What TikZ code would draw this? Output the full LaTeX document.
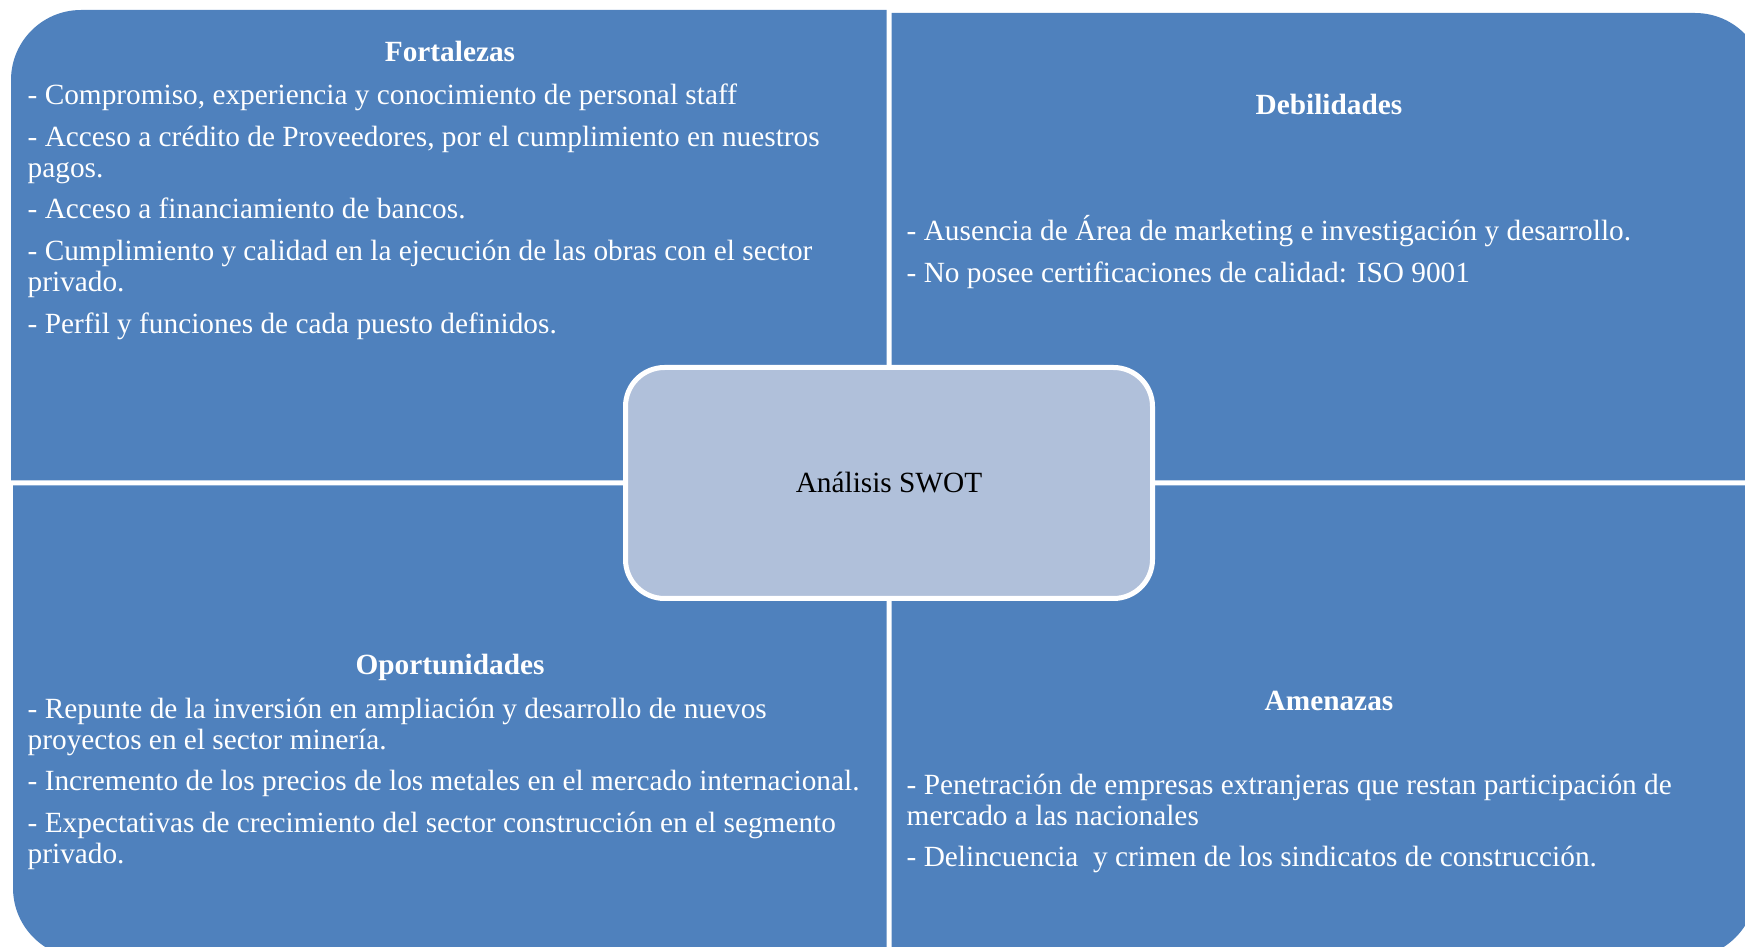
\documentclass[tikz,border=0pt]{standalone}
\usepackage{fontspec}
\setmainfont{Liberation Serif}
\usepackage{xcolor}
\definecolor{swotblue}{HTML}{4F81BD}
\definecolor{swotpale}{HTML}{B0C0DA}

\begin{document}
\begin{tikzpicture}[
    quadrant/.style={fill=swotblue},
    heading/.style={anchor=base, text=white, inner sep=0pt,
                    font=\fontsize{8.34pt}{8.8pt}\selectfont\bfseries},
    items/.style={anchor=north west, align=left, text=white, inner sep=0pt,
                  font=\fontsize{8.34pt}{8.8pt}\selectfont},
    core/.style={rectangle, rounded corners=0.39cm, draw=white, fill=swotpale,
                 line width=0.05cm, minimum width=5.27cm, minimum height=2.31cm,
                 font=\fontsize{8.34pt}{8.8pt}\selectfont}
  ]
    \useasboundingbox (0,0) rectangle (17.45,-9.47);
    \clip (0,0) rectangle (17.45,-9.47);

    % four quadrants, each with one rounded outer corner
    \fill[quadrant] (8.865,-4.805) -- (8.865,-0.10) -- (0.81,-0.10)
        arc[start angle=90, end angle=180, radius=0.7] -- (0.11,-4.805) -- cycle;
    \fill[quadrant] (8.915,-4.805) -- (8.915,-0.13) -- (16.95,-0.13)
        arc[start angle=90, end angle=0, radius=0.7] -- (17.65,-4.805) -- cycle;
    \fill[quadrant] (8.865,-4.855) -- (0.13,-4.855) -- (0.13,-8.88)
        arc[start angle=180, end angle=270, radius=0.7] -- (8.865,-9.58) -- cycle;
    \fill[quadrant] (8.915,-4.855) -- (17.56,-4.855) -- (17.56,-8.88)
        arc[start angle=0, end angle=-90, radius=0.7] -- (8.915,-9.58) -- cycle;

    \node[core] (swot) at (8.89,-4.83) {Análisis SWOT};

    \node[heading] (stitle) at (4.50,-0.62) {Fortalezas};
    \node[items] (slist) at (0.27,-0.83) {- Compromiso, experiencia y conocimiento de personal staff\\[3.1pt]
      - Acceso a crédito de Proveedores, por el cumplimiento en nuestros\\
      pagos.\\[3.1pt]
      - Acceso a financiamiento de bancos.\\[3.1pt]
      - Cumplimiento y calidad en la ejecución de las obras con el sector\\
      privado.\\[3.1pt]
      - Perfil y funciones de cada puesto definidos.};

    \node[heading] (wtitle) at (13.29,-1.15) {Debilidades};
    \node[items] (wlist) at (9.06,-2.15) {- Ausencia de Área de marketing e investigación y desarrollo.\\[3.1pt]
      - No posee certificaciones de calidad: ISO 9001};

    \node[heading] (otitle) at (4.50,-6.75) {Oportunidades};
    \node[items] (olist) at (0.27,-6.97) {- Repunte de la inversión en ampliación y desarrollo de nuevos\\
      proyectos en el sector minería.\\[3.1pt]
      - Incremento de los precios de los metales en el mercado internacional.\\[3.1pt]
      - Expectativas de crecimiento del sector construcción en el segmento\\
      privado.};

    \node[heading] (ttitle) at (13.29,-7.10) {Amenazas};
    \node[items] (tlist) at (9.06,-7.73) {- Penetración de empresas extranjeras que restan participación de\\
      mercado a las nacionales\\[3.1pt]
      - Delincuencia~ y crimen de los sindicatos de construcción.};
\end{tikzpicture}
\end{document}
